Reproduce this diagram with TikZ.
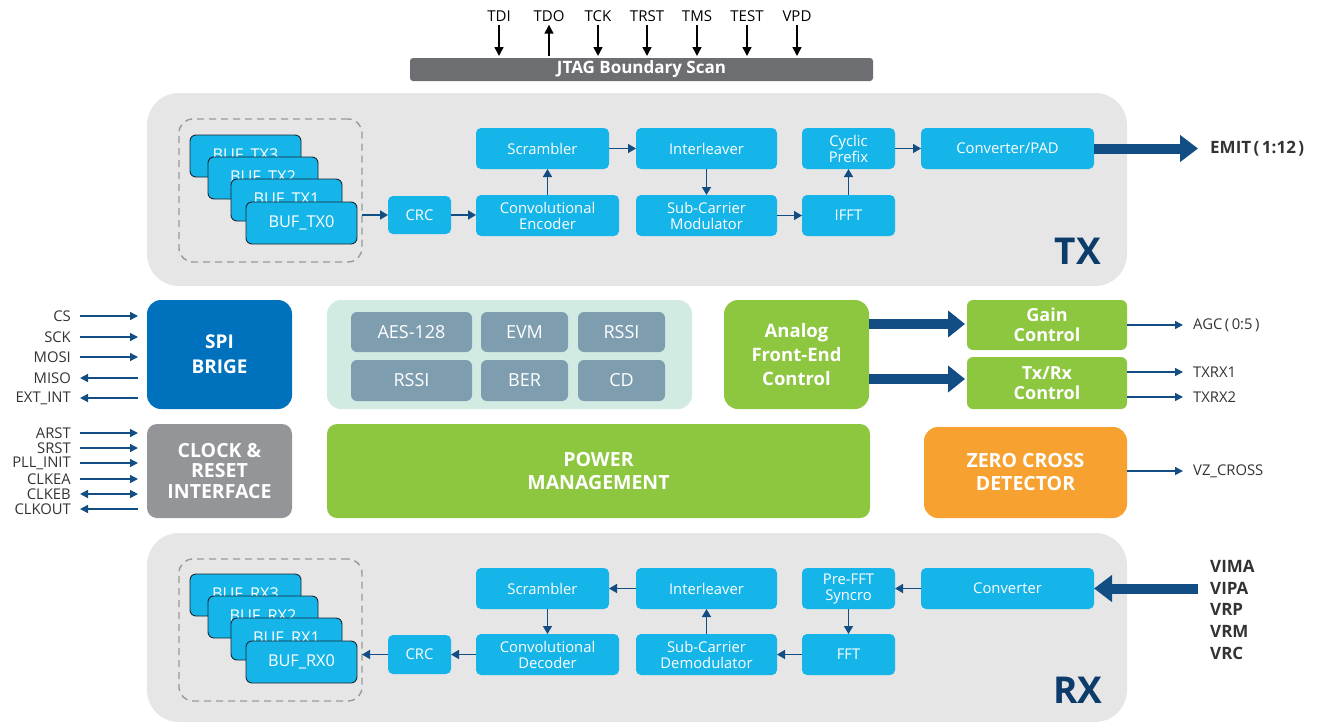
\documentclass[tikz,border=0pt]{standalone}
\usepackage{fontspec}
\setmainfont{Open Sans}
\usetikzlibrary{arrows.meta}
\definecolor{panelc}{HTML}{E6E6E6}
\definecolor{cyanb}{HTML}{16B5E9}
\definecolor{navy}{HTML}{124E84}
\definecolor{spic}{HTML}{0071BC}
\definecolor{clkc}{HTML}{939598}
\definecolor{mint}{HTML}{D1EBE3}
\definecolor{steel}{HTML}{7E9EB0}
\definecolor{greenb}{HTML}{8DC63F}
\definecolor{orangeb}{HTML}{F7A131}
\definecolor{labnavy}{HTML}{0D3C6B}
\definecolor{jtagc}{HTML}{6D6E71}
\definecolor{pintext}{HTML}{333333}
\definecolor{bufline}{HTML}{1A2630}
\definecolor{dashc}{HTML}{9A9A9A}
\newcommand{\bx}[7]{\node[#6, minimum width={(#4-#2)*1pt}, minimum height={(#5-#3)*1pt}] (#1) at ({(#2+#4)/2},{(#3+#5)/2}) {#7};}
\newcommand{\pk}{\kern2.5pt}
\tikzset{
  base/.style={inner sep=0pt, outer sep=0pt, align=center, text=white},
  panel/.style={base, fill=panelc, rounded corners=32pt},
  grp/.style={base, draw=dashc, line width=1.4pt, dash pattern=on 7pt off 5pt, rounded corners=14pt},
  blk/.style={base, fill=cyanb, rounded corners=5pt, font=\fontsize{14.8}{16}\selectfont},
  buf/.style={blk, draw=bufline, line width=0.9pt, rounded corners=6pt, font=\fontsize{16.3}{18}\selectfont},
  bigb/.style={base, rounded corners=14pt, font=\bfseries\fontsize{19.5}{23}\selectfont},
  secb/.style={base, fill=steel, rounded corners=6pt, font=\fontsize{18}{20}\selectfont},
  arr/.style={draw=navy, line width=1.6pt, -{Triangle[length=8pt,width=9pt]}},
  pinarr/.style={draw=navy, line width=1.5pt, -{Triangle[length=8pt,width=8pt]}},
  jarr/.style={draw=black, line width=1.5pt, -{Triangle[length=9pt,width=9pt]}},
  fat/.style={draw=navy, line width=10pt, -{Triangle[length=18pt,width=26pt]}},
  pinl/.style={text=pintext, font=\fontsize{14.8}{16}\selectfont, inner sep=0pt},
  jpin/.style={text=black, font=\fontsize{15}{16}\selectfont, inner sep=0pt},
  rpin/.style={anchor=west, text=pintext, font=\bfseries\fontsize{17}{19}\selectfont, inner sep=0pt},
}
\begin{document}
\begin{tikzpicture}[x=1pt,y=-1pt]
\useasboundingbox (0,0) rectangle (1317,723);
% JTAG
\bx{jtag}{410}{58}{873}{81}{base, fill=jtagc, rounded corners=3pt, font=\bfseries\fontsize{17}{18}\selectfont}{JTAG Boundary Scan}
\foreach \n/\x in {TDI/499,TDO/549,TCK/598,TRST/647,TMS/697,TEST/747,VPD/797}{
  \node[jpin] (j\n) at (\x,16) {\n};
}
\foreach \n in {TDI,TCK,TRST,TMS,TEST,VPD}{
  \draw[jarr, shorten <=3pt, shorten >=2pt] (j\n.south) -- (j\n.south |- jtag.north);
}
\draw[jarr, shorten <=2pt, shorten >=3pt] (jTDO.south |- jtag.north) -- (jTDO.south);
% TX panel
\bx{txp}{147}{93}{1127}{286}{panel}{}
\bx{txgrp}{179}{119}{362}{262}{grp}{}
\bx{btx3}{190}{135}{301}{177}{buf}{BUF\_TX3}
\bx{btx2}{208}{157}{318}{199}{buf}{BUF\_TX2}
\bx{btx1}{231}{179}{342}{221}{buf}{BUF\_TX1}
\bx{btx0}{246}{202}{357}{244}{buf}{BUF\_TX0}
\bx{crct}{388}{196}{451}{234}{blk}{CRC}
\bx{cenc}{476}{195}{619}{236}{blk}{Convolutional\\Encoder}
\bx{scrt}{476}{128}{609}{169}{blk}{Scrambler}
\bx{intt}{636}{128}{777}{169}{blk}{Interleaver}
\bx{scm}{636}{195}{777}{236}{blk}{Sub-Carrier\\Modulator}
\bx{cyc}{802}{128}{895}{169}{blk}{Cyclic\\Prefix}
\bx{ifft}{802}{195}{895}{236}{blk}{IFFT}
\bx{cpad}{921}{128}{1094}{169}{blk}{Converter/PAD}
\node[text=labnavy, font=\bfseries\fontsize{37}{40}\selectfont, inner sep=0pt] (txl) at (1078,251) {TX};
\node[rpin] (emit) at (1210,149) {EMIT\pk(\pk1:12\pk)};
\draw[arr] (txgrp.east |- crct.west) -- (crct.west);
\draw[arr] (crct.east) -- (crct.east -| cenc.west);
\draw[arr] (cenc.north) -- (cenc.north |- scrt.south);
\draw[arr] (scrt.east) -- (intt.west);
\draw[arr] (intt.south) -- (scm.north);
\draw[arr] (scm.east) -- (ifft.west);
\draw[arr] (ifft.north) -- (cyc.south);
\draw[arr] (cyc.east) -- (cpad.west);
\draw[fat, shorten >=12pt] (cpad.east) -- (cpad.east -| emit.west);
% Left column
\bx{spi}{147}{300}{292}{409}{bigb, fill=spic, font=\bfseries\fontsize{19}{25}\selectfont}{SPI\\BRIGE}
\bx{clk}{147}{424}{292}{518}{bigb, fill=clkc, rounded corners=10pt, font=\bfseries\fontsize{19.5}{20.5}\selectfont}{CLOCK \&\\RESET\\INTERFACE}
\foreach \n/\t/\y in {cs/CS/316, sck/SCK/337, mosi/MOSI/357, miso/MISO/378, eint/EXT\_INT/398}{
  \node[pinl, anchor=east] (\n) at (71,\y) {\t};
}
\foreach \n in {cs,sck,mosi}{\draw[pinarr, shorten <=9pt, shorten >=9pt] (\n.east) -- (\n.east -| spi.west);}
\foreach \n in {miso,eint}{\draw[pinarr, shorten <=9pt, shorten >=9pt] (\n.east -| spi.west) -- (\n.east);}
\foreach \n/\t/\y in {arst/ARST/433, srst/SRST/448, pll/PLL\_INIT/463, clkea/CLKEA/479, clkeb/CLKEB/494, clkout/CLKOUT/509}{
  \node[pinl, anchor=east] (\n) at (71,\y) {\t};
}
\foreach \n in {arst,srst,pll,clkea}{\draw[pinarr, shorten <=9pt, shorten >=9pt] (\n.east) -- (\n.east -| clk.west);}
\draw[pinarr, {Triangle[length=8pt,width=8pt]}-{Triangle[length=8pt,width=8pt]}, shorten <=9pt, shorten >=9pt] (clkeb.east) -- (clkeb.east -| clk.west);
\draw[pinarr, shorten <=9pt, shorten >=9pt] (clkout.east -| clk.west) -- (clkout.east);
% Security block
\bx{sec}{327}{300}{692}{409}{base, fill=mint, rounded corners=14pt}{}
\bx{aes}{351}{312}{472}{352}{secb}{AES-128}
\bx{evm}{481}{312}{568}{352}{secb}{EVM}
\bx{rssia}{578}{312}{665}{352}{secb}{RSSI}
\bx{rssib}{351}{360}{472}{401}{secb}{RSSI}
\bx{ber}{481}{360}{568}{401}{secb}{BER}
\bx{cd}{578}{360}{665}{401}{secb}{CD}
% Power
\bx{pwr}{327}{424}{870}{518}{bigb, fill=greenb, rounded corners=10pt, font=\bfseries\fontsize{19.5}{23}\selectfont}{POWER\\MANAGEMENT}
% Analog
\bx{afe}{724}{300}{869}{409}{bigb, fill=greenb, font=\bfseries\fontsize{18.5}{24}\selectfont}{Analog\\Front-End\\Control}
\bx{gain}{967}{300}{1127}{350}{bigb, fill=greenb, rounded corners=6pt, font=\bfseries\fontsize{18}{20}\selectfont}{Gain\\Control}
\bx{txrx}{967}{357}{1127}{409}{bigb, fill=greenb, rounded corners=6pt, font=\bfseries\fontsize{18}{20}\selectfont}{Tx/Rx\\Control}
\coordinate (fa1) at (869,324);
\coordinate (fa2) at (869,379);
\draw[fat, -{Triangle[length=17pt,width=26pt]}, shorten >=2pt] (fa1) -- (fa1 -| gain.west);
\draw[fat, -{Triangle[length=17pt,width=26pt]}, shorten >=2pt] (fa2) -- (fa2 -| txrx.west);
\bx{zcd}{924}{427}{1127}{518}{bigb, fill=orangeb, font=\bfseries\fontsize{19.5}{23}\selectfont}{ZERO CROSS\\DETECTOR}
\node[pinl, anchor=west] (agc) at (1193,325) {AGC\pk(\pk0:5\pk)};
\node[pinl, anchor=west] (t1) at (1193,372) {TXRX1};
\node[pinl, anchor=west] (t2) at (1193,397) {TXRX2};
\node[pinl, anchor=west] (vz) at (1193,471) {VZ\_CROSS};
\draw[pinarr, shorten >=10pt] (gain.east |- agc.west) -- (agc.west);
\draw[pinarr, shorten >=10pt] (txrx.east |- t1.west) -- (t1.west);
\draw[pinarr, shorten >=10pt] (txrx.east |- t2.west) -- (t2.west);
\draw[pinarr, shorten >=10pt] (zcd.east |- vz.west) -- (vz.west);
% RX panel
\bx{rxp}{147}{533}{1127}{722}{panel}{}
\bx{rxgrp}{179}{559}{362}{701}{grp}{}
\bx{brx3}{190}{574}{301}{616}{buf}{BUF\_RX3}
\bx{brx2}{208}{596}{318}{638}{buf}{BUF\_RX2}
\bx{brx1}{231}{618}{342}{660}{buf}{BUF\_RX1}
\bx{brx0}{246}{641}{357}{683}{buf}{BUF\_RX0}
\bx{crcr}{388}{635}{451}{674}{blk}{CRC}
\bx{cdec}{476}{634}{619}{675}{blk}{Convolutional\\Decoder}
\bx{scrr}{476}{568}{609}{609}{blk}{Scrambler}
\bx{intr}{636}{568}{777}{609}{blk}{Interleaver}
\bx{scd}{636}{634}{777}{675}{blk}{Sub-Carrier\\Demodulator}
\bx{pre}{802}{568}{895}{609}{blk}{Pre-FFT\\Syncro}
\bx{fft}{802}{634}{895}{675}{blk}{FFT}
\bx{conv}{921}{568}{1094}{609}{blk}{Converter}
\node[text=labnavy, font=\bfseries\fontsize{37}{40}\selectfont, inner sep=0pt] (rxl) at (1078,690) {RX};
\node[rpin] (vima) at (1210,566) {VIMA};
\node[rpin] (vipa) at (1210,588) {VIPA};
\node[rpin] (vrp) at (1210,609) {VRP};
\node[rpin] (vrm) at (1210,631) {VRM};
\node[rpin] (vrc) at (1210,653) {VRC};
\draw[fat, shorten <=12pt] (vipa.west |- conv.east) -- (conv.east);
\draw[arr] (conv.west) -- (pre.east);
\draw[arr] (pre.south) -- (fft.north);
\draw[arr] (fft.west) -- (scd.east);
\draw[arr] (scd.north) -- (intr.south);
\draw[arr] (intr.west) -- (scrr.east);
\draw[arr] (scrr.south -| cdec.north) -- (cdec.north);
\draw[arr] (cdec.west |- crcr.east) -- (crcr.east);
\draw[arr] (crcr.west) -- (rxgrp.east |- crcr.west);
\end{tikzpicture}
\end{document}
